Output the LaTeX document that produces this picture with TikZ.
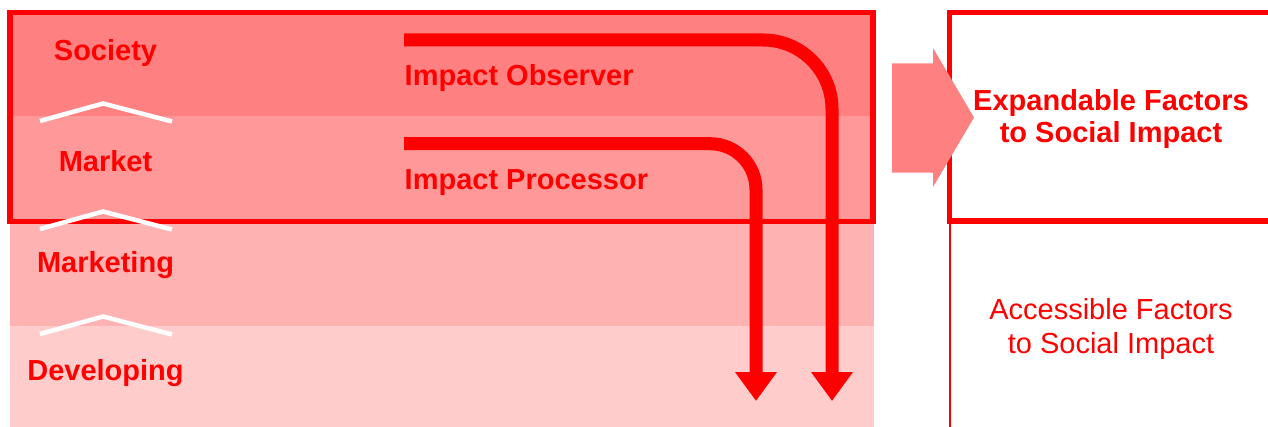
\documentclass[tikz,border=0pt]{standalone}
\usepackage{fontspec}
\setmainfont{Liberation Sans}
\usetikzlibrary{arrows.meta}
\definecolor{bandA}{RGB}{255,128,128}
\definecolor{bandB}{RGB}{255,153,153}
\definecolor{bandC}{RGB}{255,178,178}
\definecolor{bandD}{RGB}{255,204,204}
\definecolor{bigarrow}{RGB}{255,128,128}
\begin{document}
\begin{tikzpicture}[x=1pt,y=-1pt,
  lbl/.style={font=\bfseries\fontsize{29}{33}\selectfont,text=red,inner sep=0pt},
  boldtwo/.style={font=\bfseries\fontsize{29}{32}\selectfont,text=red,inner sep=0pt,align=center},
  plaintwo/.style={font=\fontsize{29}{34}\selectfont,text=red,inner sep=0pt,align=center},
  flow/.style={draw=red,line width=13pt,-{Triangle[width=40pt,length=29pt]}},
  chev/.style={draw=white,line width=4.5pt},
  frame/.style={draw=red,line width=5.5pt}]
\useasboundingbox (0,0) rectangle (1268,427);
\begin{scope}
\clip (0,0) rectangle (1268,427);
% layers
\fill[bandA] (10,11) rectangle (874,116);
\fill[bandB] (10,116) rectangle (874,222);
\fill[bandC] (10,222) rectangle (874,326);
\fill[bandD] (10,326) rectangle (874,427);
% frames
\draw[frame] (10,12.5) rectangle (873,221.5);
\draw[frame] (1280,12.5) -| (949.5,221) -- (1280,221);
\draw[red,line width=2pt] (949.5,221) -- (949.5,430);
% chevrons
\draw[chev] (40,121) -- (103,103.5) -- (172,121.5);
\draw[chev] (40,229) -- (103,211.5) -- (172,229.5);
\draw[chev] (40,334) -- (103,316.5) -- (172,334.5);
% big arrow
\fill[bigarrow] (892,63.3) -- (933,63.3) -- (933,48) -- (974,117.5) -- (933,187) -- (933,172.7) -- (892,172.7) -- cycle;
\end{scope}
% labels
\node[lbl,anchor=base] (soc) at (105.5,61) {Society};
\node[lbl,anchor=base] (mkt) at (105.5,172) {Market};
\node[lbl,anchor=base] (mktg) at (105.5,273) {Marketing};
\node[lbl,anchor=base] (dev) at (105.5,380) {Developing};
\node[lbl,anchor=base west] (obs) at (404.5,86) {Impact Observer};
\node[lbl,anchor=base west] (proc) at (404.5,190) {Impact Processor};
\node[boldtwo] (exp) at (1111,119) {Expandable Factors\\to Social Impact};
\node[plaintwo] (acc) at (1111,329) {Accessible Factors\\to Social Impact};
% flow arrows
\coordinate (obsS) at (404,40);
\coordinate (obsE) at (832,401);
\coordinate (procS) at (404,143.7);
\coordinate (procE) at (756,401);
\draw[flow,rounded corners=69pt] (obsS) -| (obsE);
\draw[flow,rounded corners=46pt] (procS) -| (procE);
\end{tikzpicture}
\end{document}
